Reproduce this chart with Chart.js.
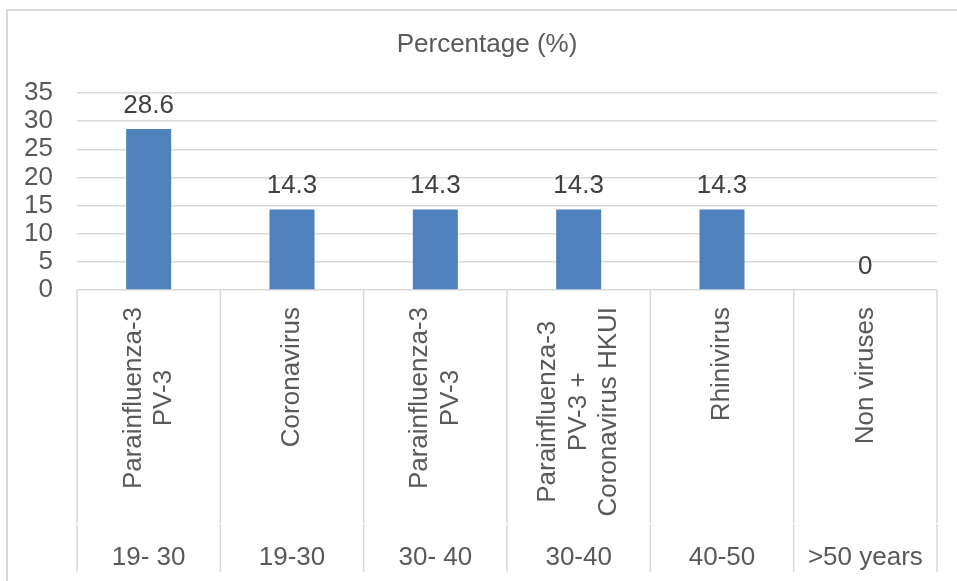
<!DOCTYPE html>
<html><head><meta charset="utf-8">
<script src="https://cdn.jsdelivr.net/npm/chart.js@4/dist/chart.umd.min.js"></script>
<style>html,body{margin:0;padding:0;background:#fff;overflow:hidden;}</style>
</head><body>
<canvas id="c" width="957" height="581" style="display:block;width:957px;height:581px"></canvas>
<script>
const viruses = [
  ["Parainfluenza-3", "PV-3"],
  ["Coronavirus"],
  ["Parainfluenza-3", "PV-3"],
  ["Parainfluenza-3", "PV-3 +", "Coronavirus HKUI"],
  ["Rhinivirus"],
  ["Non viruses"]
];
const ageGroups = ["19- 30", "19-30", "30- 40", "30-40", "40-50", ">50 years"];
const percentages = [28.6, 14.3, 14.3, 14.3, 14.3, 0];
const chartTitle = "Percentage (%)";

const FONT = "'Liberation Sans', Arial, sans-serif";
const GRID = "#d9d9d9";
const TXT = "#595959";

const framePlugin = {
  id: 'frame',
  beforeDraw(chart) {
    const ctx = chart.ctx;
    ctx.save();
    ctx.fillStyle = '#fff';
    ctx.fillRect(0, 0, chart.width, chart.height);
    ctx.strokeStyle = GRID;
    ctx.lineWidth = 2;
    ctx.strokeRect(7, 10, 1000, 1000);
    // title, centred on the chart frame
    ctx.fillStyle = TXT;
    ctx.font = "26px " + FONT;
    ctx.textAlign = 'center';
    ctx.textBaseline = 'middle';
    ctx.fillText(chartTitle, 487, 45);
    ctx.restore();
  }
};

const categoryPlugin = {
  id: 'multiLevel',
  afterDraw(chart) {
    const ctx = chart.ctx;
    const xs = chart.scales.x;
    const area = chart.chartArea;
    const n = viruses.length;
    const centers = viruses.map((_, i) => xs.getPixelForValue(i));
    const bounds = [area.left];
    for (let i = 0; i < n - 1; i++) bounds.push((centers[i] + centers[i + 1]) / 2);
    bounds.push(area.right);
    ctx.save();
    ctx.strokeStyle = GRID;
    ctx.lineWidth = 1.5;
    const yBottom = area.bottom + 282;
    const yBreak = area.bottom + 233;
    bounds.forEach(b => {
      ctx.beginPath();
      ctx.moveTo(b, area.bottom);
      ctx.lineTo(b, yBreak);
      ctx.moveTo(b, yBreak + 1);
      ctx.lineTo(b, yBottom);
      ctx.stroke();
    });
    ctx.fillStyle = TXT;
    ctx.font = "26px " + FONT;
    const lh = 30.5;
    viruses.forEach((lines, i) => {
      const maxW = Math.max(...lines.map(l => ctx.measureText(l).width));
      const yEnd = area.bottom + 17;
      lines.forEach((line, j) => {
        const lx = centers[i] + (j - (lines.length - 1) / 2) * lh;
        ctx.save();
        ctx.translate(lx, yEnd + maxW / 2);
        ctx.rotate(-Math.PI / 2);
        ctx.textAlign = 'center';
        ctx.textBaseline = 'middle';
        ctx.fillText(line, 0, 0);
        ctx.restore();
      });
    });
    ctx.textAlign = 'center';
    ctx.textBaseline = 'alphabetic';
    ageGroups.forEach((g, i) => {
      ctx.fillText(g, centers[i], area.bottom + 275);
    });
    ctx.restore();
  }
};

const valueLabelPlugin = {
  id: 'valueLabels',
  afterDatasetsDraw(chart) {
    const ctx = chart.ctx;
    const meta = chart.getDatasetMeta(0);
    ctx.save();
    ctx.fillStyle = '#404040';
    ctx.font = "26px " + FONT;
    ctx.textAlign = 'center';
    ctx.textBaseline = 'alphabetic';
    meta.data.forEach((bar, i) => {
      ctx.fillText(String(percentages[i]), bar.x, bar.y - 16.5);
    });
    ctx.restore();
  }
};

new Chart(document.getElementById('c'), {
  type: 'bar',
  data: {
    labels: ageGroups,
    datasets: [{
      data: percentages,
      backgroundColor: '#4f81bd',
      borderWidth: 0,
      categoryPercentage: 1,
      barPercentage: 0.314
    }]
  },
  options: {
    responsive: false,
    animation: false,
    layout: { padding: { left: 0, right: 20, top: 93, bottom: 0 } },
    plugins: {
      legend: { display: false },
      tooltip: { enabled: false },
      title: { display: false }
    },
    scales: {
      x: {
        grid: { display: false },
        border: { display: false },
        ticks: { display: false },
        afterFit(scale) { scale.height = 291; }
      },
      y: {
        min: 0,
        max: 35,
        ticks: {
          stepSize: 5,
          autoSkip: false,
          color: TXT,
          padding: 24,
          font: { family: FONT, size: 26 }
        },
        grid: { color: GRID, lineWidth: 1.5, drawTicks: false },
        border: { display: false },
        afterFit(scale) { scale.width = 77; }
      }
    }
  },
  plugins: [framePlugin, categoryPlugin, valueLabelPlugin]
});
</script>
</body></html>
